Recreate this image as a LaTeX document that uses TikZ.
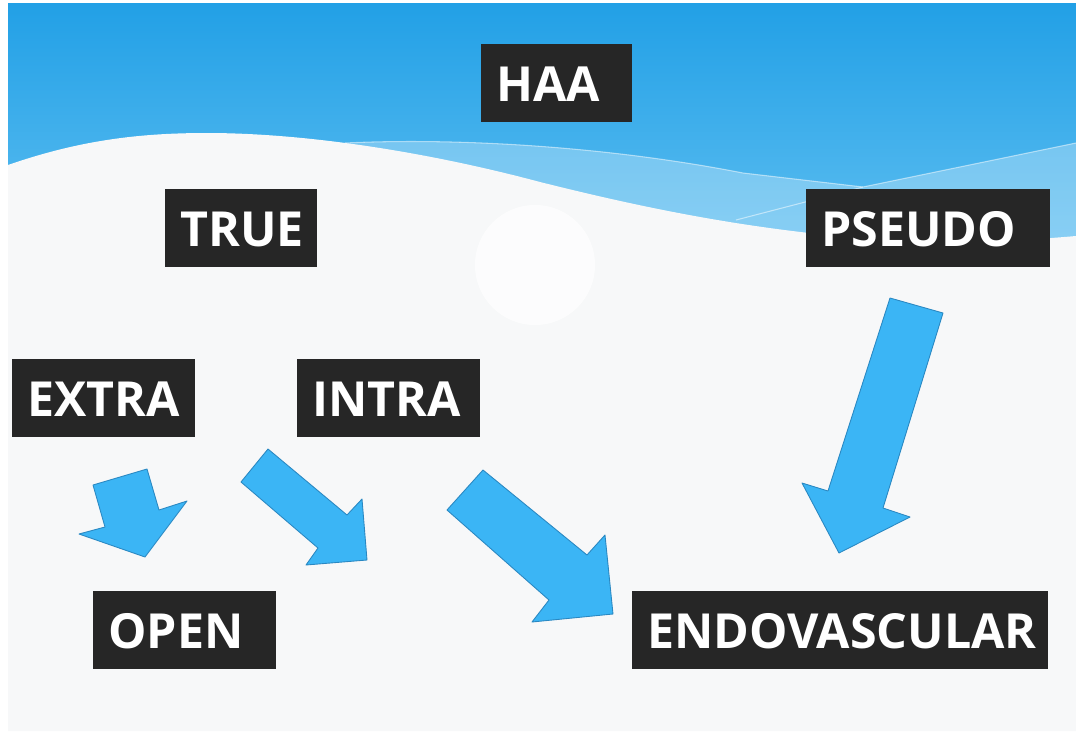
\documentclass[tikz,border=0pt]{standalone}
\usepackage{fontspec}
\setmainfont{Open Sans}

\definecolor{skytop}{HTML}{22A0E6}
\definecolor{skylow}{HTML}{5FBFF1}
\definecolor{boxgray}{HTML}{262626}
\definecolor{arrowblue}{HTML}{3BB5F5}
\definecolor{arrowedge}{HTML}{2A88C2}
\definecolor{paper}{HTML}{F7F8F9}

\tikzset{
  term/.style={fill=boxgray, text=white, anchor=north west, align=left,
    font=\bfseries\fontsize{27.5}{29}\selectfont,
    inner xsep=0.3cm, inner ysep=0pt, minimum height=1.56cm,
    text height=0.72cm, text depth=0pt},
  block/.style={fill=arrowblue, draw=arrowedge, line width=0.5pt, line join=round}
}

\begin{document}
\begin{tikzpicture}[x=0.02cm,y=-0.02cm]
   \useasboundingbox (0,0) rectangle (1076,731);
   \fill[white] (0,0) rectangle (1076,731);

   % sky and wave
   \shade[top color=skytop, bottom color=skylow] (8,3) rectangle (1076,260);
   \fill[white, opacity=0.28] (345,143) .. controls (450,138) and (600,145) .. (743,173)
      -- (863,187) -- (1076,143) -- (1076,245) -- (700,245) -- cycle;
   \draw[white, opacity=0.5, line width=0.6pt] (345,143) .. controls (450,138) and (600,145) .. (743,173) -- (863,187);
   \draw[white, opacity=0.5, line width=0.6pt] (736,220) -- (863,187) -- (1076,143);
   \fill[paper] (8,165) .. controls (80,140) and (140,133) .. (207,133)
      .. controls (300,133) and (420,150) .. (540,182)
      .. controls (640,207) and (740,228) .. (860,238)
      .. controls (960,245) and (1030,240) .. (1076,236)
      -- (1076,731) -- (8,731) -- cycle;
   \fill[white, opacity=0.7] (535,265) circle (60);

   % terms
   \node[term, text width=2.42cm] (haa) at (481,44) {HAA};
   \node[term, text width=2.44cm] (true) at (165,189) {TRUE};
   \node[term, text width=4.28cm] (pseudo) at (806,189) {PSEUDO};
   \node[term, text width=3.06cm] (extra) at (12,359) {EXTRA};
   \node[term, text width=3.06cm] (intra) at (297,359) {INTRA};
   \node[term, text width=3.06cm] (open) at (93,591) {OPEN};
   \node[term, text width=7.72cm] (endo) at (632,591) {ENDOVASCULAR};

   % block arrows
   \filldraw[block] (93,485) -- (147,469) -- (159,510) -- (187,501) -- (145,557) -- (79,534) -- (105,527) -- cycle;
   \filldraw[block] (268,449) -- (347,515) -- (362,499) -- (367,560) -- (306,565) -- (318,548) -- (241,482) -- cycle;
   \filldraw[block] (483,470) -- (587,555) -- (605,535) -- (613,614) -- (532,622) -- (549,600) -- (447,510) -- cycle;
   \filldraw[block] (890,298) -- (943,313) -- (883,508) -- (910,517) -- (839,553) -- (802,483) -- (828,491) -- cycle;
\end{tikzpicture}
\end{document}
